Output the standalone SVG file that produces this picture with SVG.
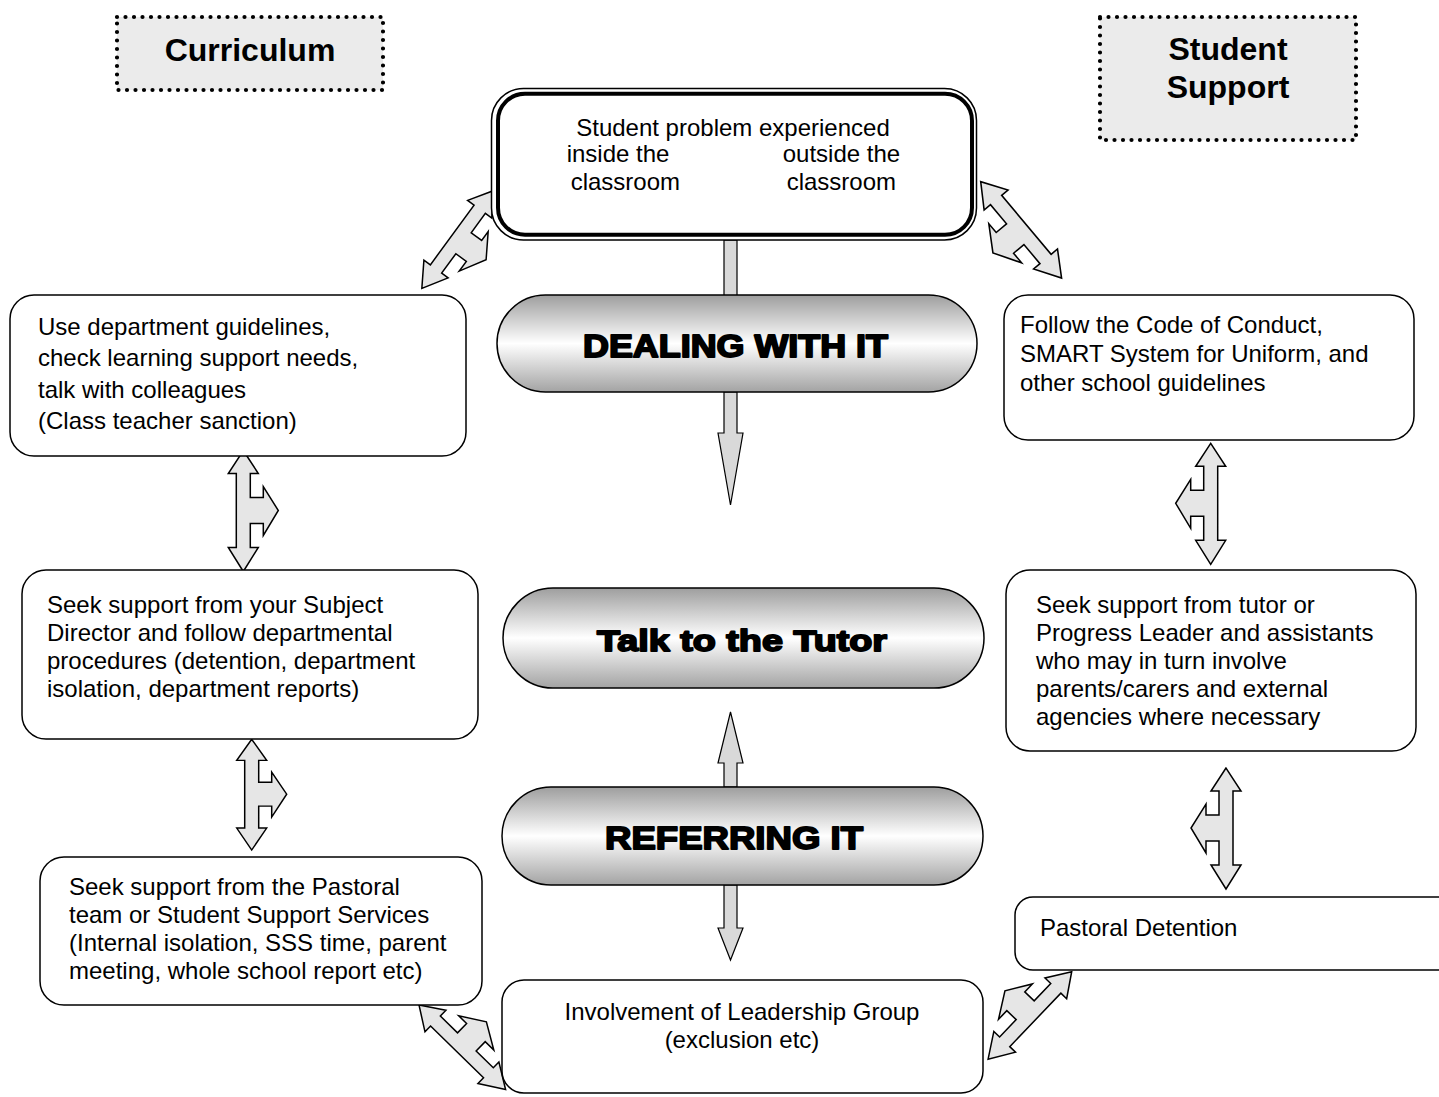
<svg xmlns="http://www.w3.org/2000/svg" xmlns:xlink="http://www.w3.org/1999/xlink" width="1439" height="1097" viewBox="0 0 1439 1097">
<style>
  .box { fill: #ffffff; stroke: #000; stroke-width: 1.5; }
  .t { font-family: "Liberation Sans", Arial, sans-serif; font-size: 24px; fill: #000; }
  .title { font-family: "Liberation Sans", Arial, sans-serif; font-size: 32px; font-weight: bold; fill: #000; text-anchor: middle; }
  .dotted { fill: #ebebeb; stroke: #000; stroke-width: 4.2; stroke-dasharray: 0 8.5; stroke-linecap: round; }
  .pill { fill: url(#pillGrad); stroke: #000; stroke-width: 1.5; }
  .big { font-family: "Liberation Sans", Arial, sans-serif; font-weight: bold; fill: #000; stroke: #000; stroke-width: 1.8; stroke-linejoin: round; }
  .dbl { fill: #e6e6e6; stroke: #000; stroke-width: 1.5; stroke-linejoin: miter; }
  .shaft { fill: #d9d9d9; stroke: #000; stroke-width: 1.2; stroke-linejoin: miter; }
</style>
<defs>
  <linearGradient id="pillGrad" x1="0" y1="0" x2="0" y2="1">
    <stop offset="0" stop-color="#9e9e9e"/>
    <stop offset="0.5" stop-color="#ffffff"/>
    <stop offset="1" stop-color="#a3a3a3"/>
  </linearGradient>
  <path id="branchArrow" d="M0,0 L15,23 L7,23 L7,47 L20,47 L20,36 L35,60 L20,85 L20,73 L7,73 L7,97 L15,97 L0,121 L-15,97 L-7,97 L-7,23 L-15,23 Z"/>
</defs>
<rect width="1439" height="1097" fill="#ffffff"/>

<g id="connectors">
  <rect class="shaft" x="724" y="240" width="13" height="56"/>
  <polygon class="shaft" points="724,392 737,392 737,433 743,433 730.5,505 718,433 724,433"/>
  <polygon class="shaft" points="724,787 737,787 737,763 743,763 730.5,712 718,763 724,763"/>
  <polygon class="shaft" points="724,885 737,885 737,928 743,928 730.5,960 718,928 724,928"/>

  <use xlink:href="#branchArrow" class="dbl" transform="translate(493.3,190.7) rotate(36.2)"/>
  <use xlink:href="#branchArrow" class="dbl" transform="translate(980.7,181.7) rotate(-40) scale(-1.04,1.04)"/>
  <use xlink:href="#branchArrow" class="dbl" transform="translate(243.3,450.5)"/>
  <use xlink:href="#branchArrow" class="dbl" transform="translate(251.7,739.3) scale(1,0.915)"/>
  <use xlink:href="#branchArrow" class="dbl" transform="translate(1210.7,443.3) scale(-1,1)"/>
  <use xlink:href="#branchArrow" class="dbl" transform="translate(1226,768) scale(-1,1)"/>
  <use xlink:href="#branchArrow" class="dbl" transform="translate(419,1005) rotate(-45.7)"/>
  <use xlink:href="#branchArrow" class="dbl" transform="translate(1071.7,971.7) rotate(43.7) scale(-1,1)"/>
</g>

<g id="curriculum">
  <rect class="dotted" x="117" y="17" width="266" height="73"/>
  <text class="title" x="250" y="61">Curriculum</text>
</g>

<g id="student-support">
  <rect class="dotted" x="1100" y="17" width="256" height="123"/>
  <text class="title" x="1228" y="60">Student</text>
  <text class="title" x="1228" y="98">Support</text>
</g>

<g id="problem">
  <rect x="491.5" y="88.5" width="485" height="151.5" rx="32" fill="#ffffff" stroke="#000" stroke-width="1.5"/>
  <rect x="498" y="93.7" width="474" height="141" rx="27" fill="none" stroke="#000" stroke-width="4"/>
  <text class="t" x="733" y="136" text-anchor="middle">Student problem experienced</text>
  <text class="t" x="566.7" y="162">inside the</text>
  <text class="t" x="570.7" y="190">classroom</text>
  <text class="t" x="782.7" y="162">outside the</text>
  <text class="t" x="786.7" y="190">classroom</text>
</g>

<g id="dealing">
  <rect class="pill" x="497" y="295" width="480" height="97" rx="48.5"/>
  <text class="big" x="583" y="357" font-size="30.5" textLength="305" lengthAdjust="spacingAndGlyphs">DEALING WITH IT</text>
</g>

<g id="tutor">
  <rect class="pill" x="503" y="588" width="481" height="100" rx="50"/>
  <text class="big" x="597" y="651" font-size="30" textLength="290" lengthAdjust="spacingAndGlyphs">Talk to the Tutor</text>
</g>

<g id="referring">
  <rect class="pill" x="502" y="787" width="481" height="98" rx="49"/>
  <text class="big" x="605" y="849" font-size="32" textLength="258" lengthAdjust="spacingAndGlyphs">REFERRING IT</text>
</g>

<g id="leadership">
  <rect class="box" x="502" y="980" width="481" height="113" rx="22"/>
  <text class="t" x="742" y="1020" text-anchor="middle">Involvement of Leadership Group</text>
  <text class="t" x="742" y="1048" text-anchor="middle">(exclusion etc)</text>
</g>

<g id="dept-guidelines">
  <rect class="box" x="10" y="295" width="456" height="161" rx="24"/>
  <text class="t" x="38" y="335">Use department guidelines,</text>
  <text class="t" x="38" y="366">check learning support needs,</text>
  <text class="t" x="38" y="398">talk with colleagues</text>
  <text class="t" x="38" y="429">(Class teacher sanction)</text>
</g>

<g id="subject-director">
  <rect class="box" x="22" y="570" width="456" height="169" rx="24"/>
  <text class="t" x="47" y="613">Seek support from your Subject</text>
  <text class="t" x="47" y="641">Director and follow departmental</text>
  <text class="t" x="47" y="669">procedures (detention, department</text>
  <text class="t" x="47" y="697">isolation, department reports)</text>
</g>

<g id="pastoral-team">
  <rect class="box" x="40" y="857" width="442" height="148" rx="24"/>
  <text class="t" x="69" y="895">Seek support from the Pastoral</text>
  <text class="t" x="69" y="923">team or Student Support Services</text>
  <text class="t" x="69" y="951">(Internal isolation, SSS time, parent</text>
  <text class="t" x="69" y="979">meeting, whole school report etc)</text>
</g>

<g id="code-of-conduct">
  <rect class="box" x="1004" y="295" width="410" height="145" rx="24"/>
  <text class="t" x="1020" y="333">Follow the Code of Conduct,</text>
  <text class="t" x="1020" y="362">SMART System for Uniform, and</text>
  <text class="t" x="1020" y="391">other school guidelines</text>
</g>

<g id="tutor-support">
  <rect class="box" x="1006" y="570" width="410" height="181" rx="24"/>
  <text class="t" x="1036" y="613">Seek support from tutor or</text>
  <text class="t" x="1036" y="641">Progress Leader and assistants</text>
  <text class="t" x="1036" y="669">who may in turn involve</text>
  <text class="t" x="1036" y="697">parents/carers and external</text>
  <text class="t" x="1036" y="725">agencies where necessary</text>
</g>

<g id="pastoral-detention">
  <rect class="box" x="1015" y="897" width="440" height="73" rx="18"/>
  <text class="t" x="1040" y="936">Pastoral Detention</text>
</g>
</svg>
